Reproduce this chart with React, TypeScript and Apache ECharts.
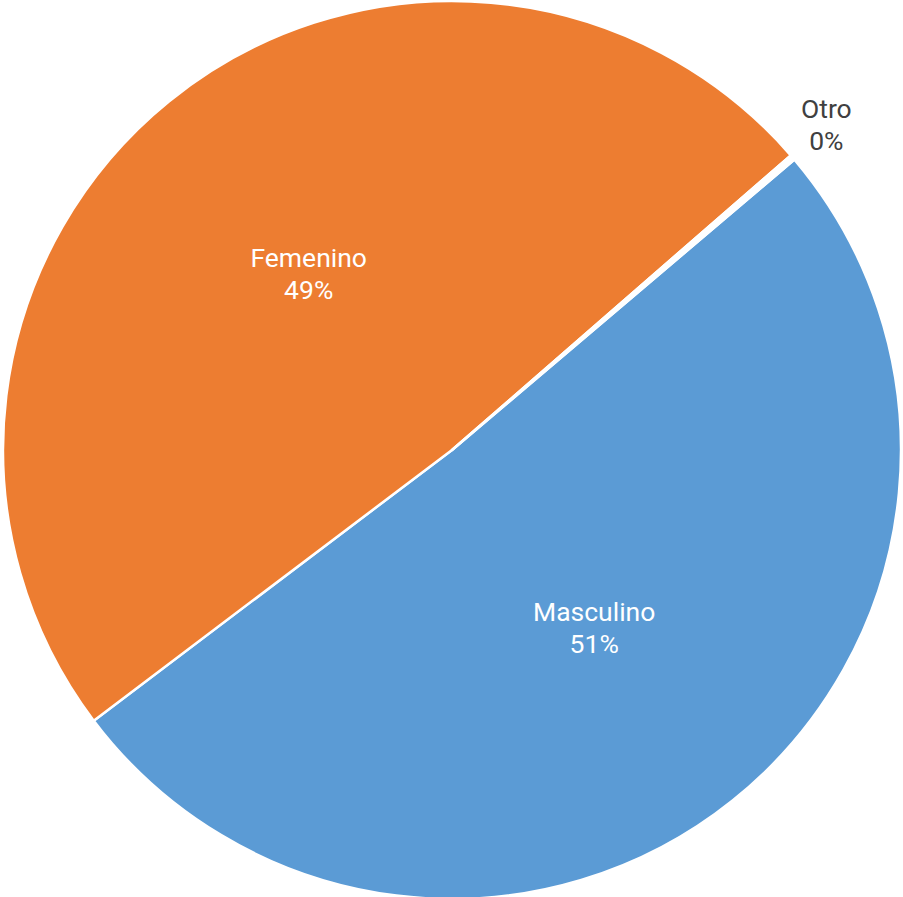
import React, { useEffect, useRef } from "react";
import * as echarts from "echarts";

const categories = ["Masculino", "Femenino", "Otro"];
const values = [51, 49, 0.2];
const colors = ["#5B9BD5", "#ED7D31", "#ffffff"];

export default function App() {
  const ref = useRef<HTMLDivElement>(null);
  useEffect(() => {
    document.body.style.margin = "0";
    const chart = echarts.init(ref.current!, undefined, { renderer: "svg" });
    chart.setOption({
      animation: false,
      series: [
        {
          type: "pie",
          center: [452, 450],
          radius: 449,
          startAngle: 40.3,
          clockwise: true,
          avoidLabelOverlap: false,
          percentPrecision: 0,
          itemStyle: { borderColor: "#ffffff", borderWidth: 2.5 },
          label: {
            show: true,
            position: "inside",
            formatter: "{b}\n{d}%",
            color: "#ffffff",
            fontFamily: "Roboto",
            fontSize: 26.5,
            lineHeight: 32,
            align: "center",
          },
          labelLine: { show: false },
          labelLayout: (p: any) => {
            if (p.dataIndex === 2) {
              return { dx: 6, dy: -13, align: "center", verticalAlign: "middle" };
            }
            return {};
          },
          data: categories.map((c, i) => ({
            name: c,
            value: values[i],
            itemStyle: { color: colors[i] },
            label:
              i === 2
                ? {
                    position: "outside",
                    color: "#404040",
                    align: "center",
                  }
                : undefined,
            labelLine: i === 2 ? { show: false, length: 30, length2: 0 } : undefined,
          })),
        },
      ],
    });
    return () => chart.dispose();
  }, []);
  return <div ref={ref} style={{ width: 903, height: 897 }} />;
}
